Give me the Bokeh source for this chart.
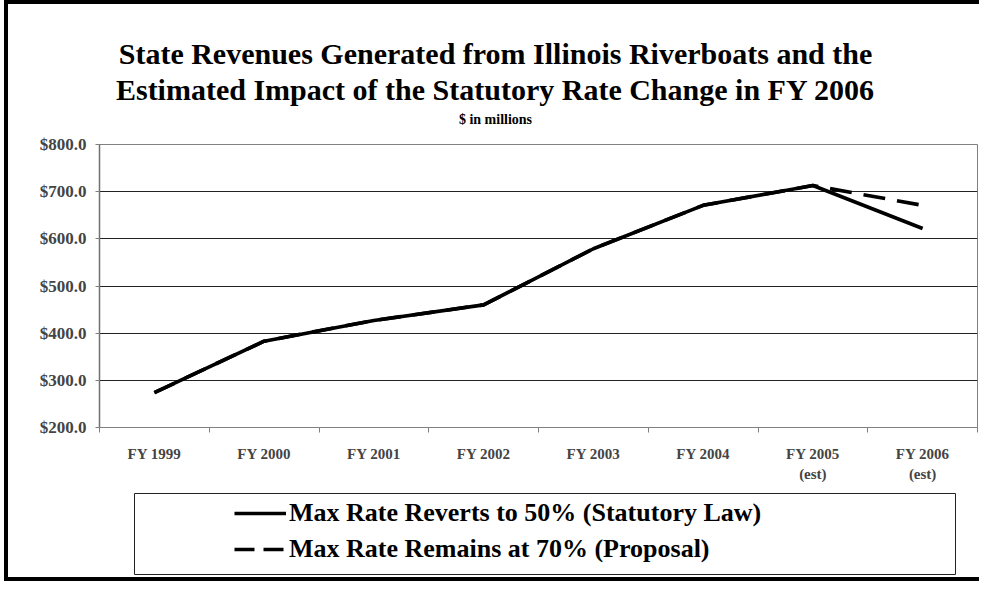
from bokeh.plotting import figure
from bokeh.models import (Range1d, FixedTicker, PrintfTickFormatter,
                          Legend, LegendItem, ColumnDataSource, Div)
from bokeh.layouts import column, row
from bokeh.core.properties import value
from bokeh.embed import file_html
from bokeh.resources import INLINE

# ---- data ----
years = ["FY 1999", "FY 2000", "FY 2001", "FY 2002", "FY 2003", "FY 2004", "FY 2005", "FY 2006"]
notes = ["", "", "", "", "", "", "(est)", "(est)"]
statutory = [274, 383, 427, 460, 579, 671, 713, 622]
proposal = [274, 383, 427, 460, 579, 671, 713, 671]
y_ticks = [200, 300, 400, 500, 600, 700, 800]
title_lines = ["State Revenues Generated from Illinois Riverboats and the",
               "Estimated Impact of the Statutory Rate Change in FY 2006"]
subtitle = "$ in millions"
series_names = ["Max Rate Reverts to 50% (Statutory Law)",
                "Max Rate Remains at 70% (Proposal)"]

FONT = "Liberation Serif"
idx = list(range(len(years)))
labels = {i: (y + "\n" + n if n else y) for i, (y, n) in enumerate(zip(years, notes))}


def no_align(fig):
    if "frame_align" in fig.properties():
        fig.frame_align = False
    return fig


def block(w, h, color):
    return Div(text="", width=w, height=h, margin=0,
               styles={"background-color": color, "overflow": "hidden"})


# ---- title panel (page y 12..142) ----
pt = figure(width=971, height=130, output_backend="svg", toolbar_location=None,
            title=None, x_axis_type=None, y_axis_type=None, min_border=0,
            x_range=Range1d(16, 987), y_range=Range1d(142, 12),
            outline_line_color=None)
no_align(pt)
tsrc = ColumnDataSource(dict(
    x=[503, 503, 503], y=[61, 97, 127],
    text=[title_lines[0], title_lines[1], subtitle],
    size=["30px", "30px", "14px"]))
pt.text(x="x", y="y", text="text", source=tsrc, text_font=value(FONT),
        text_font_style="bold", text_font_size="size", text_color="black",
        text_align="center", text_baseline="middle")

# ---- main chart (page y 142..497) ----
p = figure(width=971, height=355, output_backend="svg", toolbar_location=None,
           title=None,
           x_range=Range1d(-0.5, len(years) - 0.5),
           y_range=Range1d(y_ticks[0], y_ticks[-1]),
           min_border_left=91, min_border_right=2,
           min_border_top=10, min_border_bottom=62)
no_align(p)
p.outline_line_color = "#808080"
p.outline_line_width = 1

p.line(idx, proposal, line_color="black", line_width=3.6, line_dash="22 12")
p.line(idx, statutory, line_color="black", line_width=3.6)

xa = p.xaxis[0]
xa.ticker = FixedTicker(ticks=idx, minor_ticks=[i - 0.5 for i in range(len(years) + 1)])
xa.major_label_overrides = labels
xa.major_tick_line_color = None
xa.major_tick_out = 5
xa.minor_tick_line_color = "#808080"
xa.minor_tick_out = 5
xa.minor_tick_in = 0
xa.axis_line_color = "#808080"
xa.major_label_text_font = FONT
xa.major_label_text_font_style = "bold"
xa.major_label_text_font_size = "15px"
xa.major_label_text_line_height = 1.25
xa.major_label_standoff = 13

ya = p.yaxis[0]
ya.ticker = FixedTicker(ticks=y_ticks)
ya.formatter = PrintfTickFormatter(format="$%.1f")
ya.major_tick_line_color = "#808080"
ya.major_tick_out = 4
ya.major_tick_in = 0
ya.minor_tick_line_color = None
ya.axis_line_color = "#707070"
ya.axis_line_width = 1.5
ya.major_label_text_font = FONT
ya.major_label_text_font_style = "bold"
ya.major_label_text_font_size = "17px"
ya.major_label_standoff = 9

p.xgrid.grid_line_color = None
p.ygrid.grid_line_color = "#222222"
p.ygrid.grid_line_width = 1

# ---- legend panel (page y 497..585); its frame is the legend box ----
p2 = figure(width=971, height=88, output_backend="svg", toolbar_location=None,
            title=None, x_axis_type=None, y_axis_type=None,
            x_range=Range1d(0, 1), y_range=Range1d(-2, -1),
            min_border_left=126, min_border_right=24,
            min_border_top=4, min_border_bottom=3)
no_align(p2)
p2.outline_line_color = "#222222"
p2.outline_line_width = 1
# legend keys reuse the series (they fall outside this panel's ranges)
r1 = p2.line(idx, statutory, line_color="black", line_width=3.6)
r2 = p2.line(idx, proposal, line_color="black", line_width=3.6, line_dash="20 9")
legend = Legend(items=[LegendItem(label=series_names[0], renderers=[r1]),
                       LegendItem(label=series_names[1], renderers=[r2])],
                location=(100, 10), orientation="vertical",
                glyph_width=52, glyph_height=28, label_height=28,
                label_standoff=3, spacing=6, padding=0, margin=0,
                label_text_font=FONT, label_text_font_style="bold",
                label_text_font_size="26px", label_text_color="black",
                border_line_alpha=0, background_fill_alpha=0)
p2.add_layout(legend, "center")

inner = column(pt, p, p2, spacing=0)
middle = row(block(4, 573, "black"), inner, spacing=0)
framed = column(block(975, 4, "black"), middle, block(975, 4, "black"), spacing=0)
layout = row(block(4, 581, "white"), framed, spacing=0)

open("out.html", "w").write(file_html(layout, INLINE))
